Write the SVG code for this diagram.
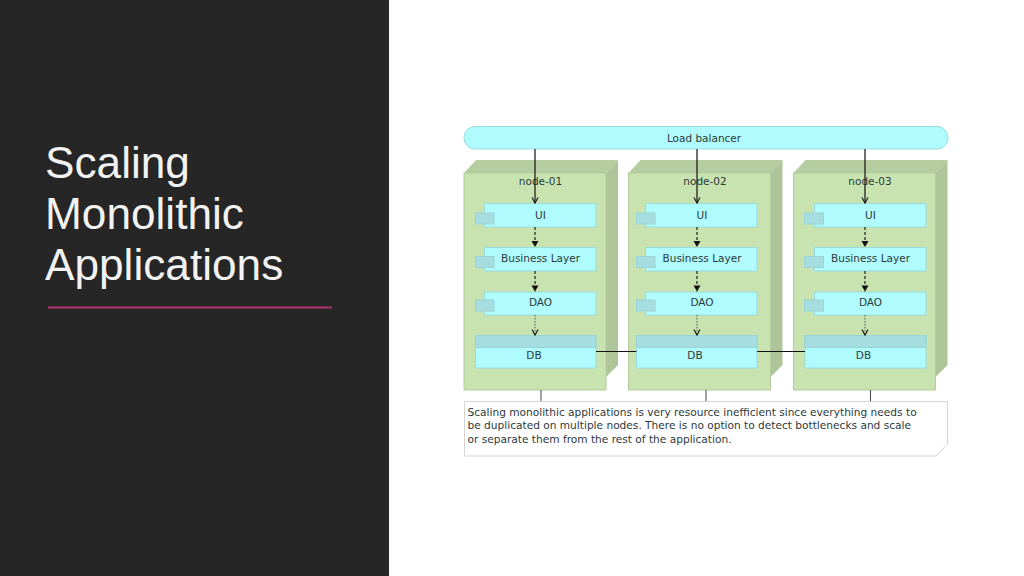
<svg xmlns="http://www.w3.org/2000/svg" width="1024" height="576" viewBox="0 0 1024 576">
<style>
.t{font-family:"DejaVu Sans",sans-serif;font-size:10.5px;fill:#2c3a3c;text-anchor:middle}
.p{font-family:"DejaVu Sans",sans-serif;font-size:10.6px;fill:#2c3a3c}
.n{font-family:"Liberation Sans",sans-serif;font-size:44.200px;fill:#f2f2f2}
.front{fill:#c8e3b0;stroke:#b4cba0;stroke-width:1}
.top{fill:#b6cda0}.side{fill:#adc598}
.comp{fill:#b0fbfd;stroke:#98dcdc;stroke-width:1}
.tab{fill:#a5dde0;stroke:#98d4d6;stroke-width:1}
.s{stroke:#111;stroke-width:1.200;fill:none}
.d{stroke:#222;stroke-width:1.200;fill:none;stroke-dasharray:3 2}
.e{stroke:#555;stroke-width:1;fill:none;stroke-dasharray:1.500 1.500}
.l{stroke:#111;stroke-width:1.200}
.g{stroke:#444;stroke-width:1}
</style>
<defs>
<marker id="open" markerWidth="10" markerHeight="10" refX="7" refY="4" orient="auto" markerUnits="userSpaceOnUse"><path d="M1.500 1L7 4L1.500 7" fill="none" stroke="#111" stroke-width="1.100"/></marker>
<marker id="solid" markerWidth="10" markerHeight="10" refX="7" refY="4" orient="auto" markerUnits="userSpaceOnUse"><path d="M1 0.500L7 4L1 7.500Z" fill="#111"/></marker>
<g id="stack">
<path class="top" d="M0 13L12 0H154L142 13Z"/>
<path class="side" d="M142 13L154 0V205L142 217Z"/>
<rect class="front" x="0" y="13" width="142" height="217"/>
</g>
</defs>
<rect width="1024" height="576" fill="#fff"/>
<rect id="panel" width="389" height="576" fill="#262626"/>
<g id="title">
<text class="n" x="45" y="178">Scaling</text>
<text class="n" x="45" y="229">Monolithic</text>
<text class="n" x="45" y="280">Applications</text>
<line x1="48" y1="307.500" x2="332" y2="307.500" stroke="#b0306f" stroke-width="2"/>
</g>
<g id="load-balancer">
<rect x="464" y="126.500" width="484" height="22.500" rx="11" class="comp"/>
<text class="t" x="704" y="141.500">Load balancer</text>
</g>
<g id="node-01">
<use href="#stack" x="464" y="160"/>
<text class="t" x="540.500" y="184.500">node-01</text>
</g>
<g id="node-02">
<use href="#stack" x="628.500" y="160"/>
<text class="t" x="705" y="184.500">node-02</text>
</g>
<g id="node-03">
<use href="#stack" x="793.500" y="160"/>
<text class="t" x="870" y="184.500">node-03</text>
</g>
<g id="ui-1"><rect class="comp" x="484.500" y="203.500" width="111.500" height="23.500"/><rect class="tab" x="475.500" y="213" width="18.500" height="11"/><text class="t" x="540.500" y="218.500">UI</text></g>
<g id="bl-1"><rect class="comp" x="484.500" y="247.500" width="111.500" height="23.500"/><rect class="tab" x="475.500" y="256.500" width="18.500" height="11"/><text class="t" x="540.500" y="262">Business Layer</text></g>
<g id="dao-1"><rect class="comp" x="484.500" y="292" width="111.500" height="23"/><rect class="tab" x="475.500" y="300" width="18.500" height="11"/><text class="t" x="540.500" y="306">DAO</text></g>
<g id="db-1"><rect class="comp" x="475.500" y="335.500" width="120.500" height="32.500"/><rect class="tab" x="475.500" y="335.500" width="120.500" height="12"/><text class="t" x="534" y="359">DB</text></g>
<g id="ui-2"><rect class="comp" x="645.500" y="203.500" width="111.500" height="23.500"/><rect class="tab" x="636.500" y="213" width="18.500" height="11"/><text class="t" x="702" y="218.500">UI</text></g>
<g id="bl-2"><rect class="comp" x="645.500" y="247.500" width="111.500" height="23.500"/><rect class="tab" x="636.500" y="256.500" width="18.500" height="11"/><text class="t" x="702" y="262">Business Layer</text></g>
<g id="dao-2"><rect class="comp" x="645.500" y="292" width="111.500" height="23"/><rect class="tab" x="636.500" y="300" width="18.500" height="11"/><text class="t" x="702" y="306">DAO</text></g>
<g id="db-2"><rect class="comp" x="636.500" y="335.500" width="120.500" height="32.500"/><rect class="tab" x="636.500" y="335.500" width="120.500" height="12"/><text class="t" x="695" y="359">DB</text></g>
<g id="ui-3"><rect class="comp" x="814.500" y="203.500" width="111.500" height="23.500"/><rect class="tab" x="804.500" y="213" width="19" height="11"/><text class="t" x="870.500" y="218.500">UI</text></g>
<g id="bl-3"><rect class="comp" x="814.500" y="247.500" width="111.500" height="23.500"/><rect class="tab" x="804.500" y="256.500" width="19" height="11"/><text class="t" x="870.500" y="262">Business Layer</text></g>
<g id="dao-3"><rect class="comp" x="814.500" y="292" width="111.500" height="23"/><rect class="tab" x="804.500" y="300" width="19" height="11"/><text class="t" x="870.500" y="306">DAO</text></g>
<g id="db-3"><rect class="comp" x="805" y="335.500" width="121" height="32.500"/><rect class="tab" x="805" y="335.500" width="121" height="12"/><text class="t" x="863.500" y="359">DB</text></g>
<g id="note">
<path d="M464.500 401.500H947.500V444L936 456H464.500Z" fill="#fff" stroke="#d4d6d4" stroke-width="1"/>
<text class="p" x="467.500" y="415.500">Scaling monolithic applications is very resource inefficient since everything needs to</text>
<text class="p" x="467.500" y="429">be duplicated on multiple nodes. There is no option to detect bottlenecks and scale</text>
<text class="p" x="467.500" y="442.500">or separate them from the rest of the application.</text>
</g>
<g id="connectors">
<path class="s" d="M535 149V203" marker-end="url(#open)"/>
<path class="s" d="M697 149V203" marker-end="url(#open)"/>
<path class="s" d="M865 149V203" marker-end="url(#open)"/>
<path class="d" d="M535 227V247" marker-end="url(#solid)"/>
<path class="d" d="M697 227V247" marker-end="url(#solid)"/>
<path class="d" d="M865 227V247" marker-end="url(#solid)"/>
<path class="d" d="M535 271V291.500" marker-end="url(#solid)"/>
<path class="d" d="M697 271V291.500" marker-end="url(#solid)"/>
<path class="d" d="M865 271V291.500" marker-end="url(#solid)"/>
<path class="e" d="M535 315V335" marker-end="url(#open)"/>
<path class="e" d="M697 315V335" marker-end="url(#open)"/>
<path class="e" d="M865 315V335" marker-end="url(#open)"/>
<line class="l" x1="596" y1="351.500" x2="636.500" y2="351.500"/>
<line class="l" x1="757" y1="351.500" x2="805" y2="351.500"/>
<line class="g" x1="541" y1="390" x2="541" y2="401"/>
<line class="g" x1="706" y1="390" x2="706" y2="401"/>
<line class="g" x1="870.500" y1="390" x2="870.500" y2="401"/>
</g>
</svg>
